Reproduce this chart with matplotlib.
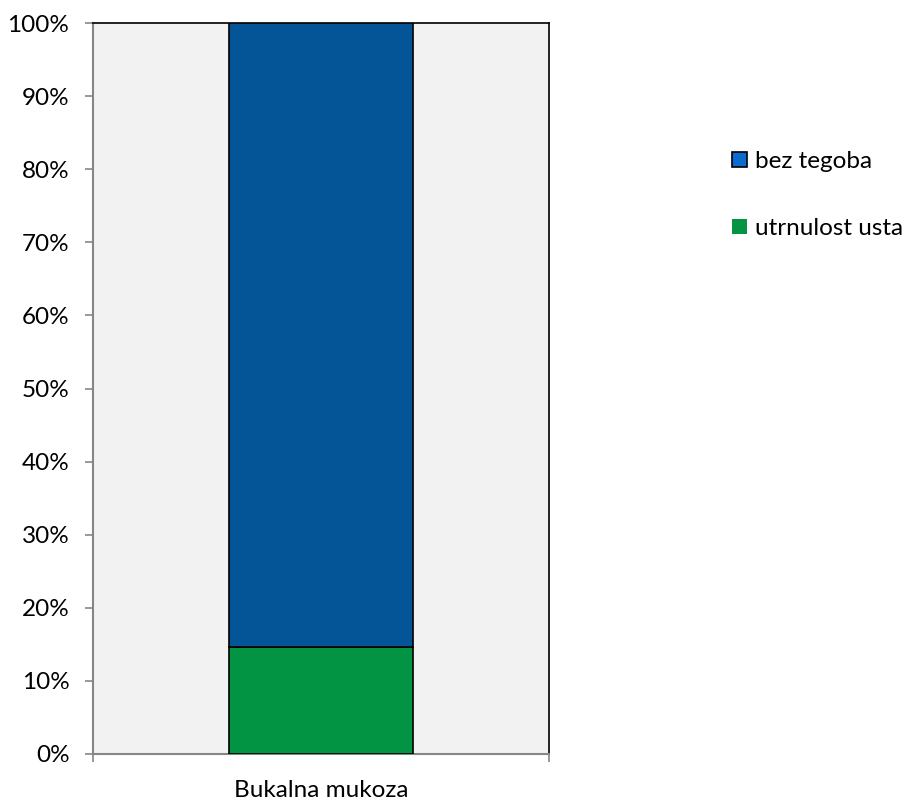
import matplotlib
matplotlib.use("Agg")
import matplotlib.pyplot as plt
from matplotlib.patches import Patch
from matplotlib.ticker import FuncFormatter

categories = ["Bukalna mukoza"]
utrnulost = [14.6]
bez_tegoba = [85.4]
labels = ["bez tegoba", "utrnulost usta"]
yticks = [0, 10, 20, 30, 40, 50, 60, 70, 80, 90, 100]

plt.rcParams['font.family'] = ['Lato', 'DejaVu Sans']

fig = plt.figure(figsize=(9.08, 8), dpi=100)
ax = fig.add_axes([93/908, 46/800, 456/908, 731/800])
ax.set_facecolor('#f2f2f2')

x = list(range(len(categories)))
green = '#039443'
blue = '#035597'
ax.bar(x, utrnulost, width=0.404, color=green, edgecolor='black', linewidth=1.2, zorder=3)
ax.bar(x, bez_tegoba, bottom=utrnulost, width=0.404, color=blue, edgecolor='black', linewidth=1.2, zorder=3)

ax.set_xlim(-0.5, 0.5)
ax.set_ylim(0, 100)
ax.set_yticks(yticks)
ax.yaxis.set_major_formatter(FuncFormatter(lambda v, p: f"{int(v)}%"))
ax.set_xticks(x)
ax.set_xticklabels(categories)
ax.set_xticks([-0.5, 0.5], minor=True)
ax.tick_params(axis='x', which='major', length=0, labelsize=17.5, pad=19, colors='black')
ax.tick_params(axis='x', which='minor', length=6, color='#868686', width=1.2)
ax.tick_params(axis='y', length=6, color='#868686', width=1.2, labelsize=17.5, pad=11)

for s in ['left', 'bottom']:
    ax.spines[s].set_color('#868686')
    ax.spines[s].set_linewidth(1.5)
for s in ['top', 'right']:
    ax.spines[s].set_color('black')
    ax.spines[s].set_linewidth(1.2)

handles = [Patch(facecolor='#0a6ccc', edgecolor='black', linewidth=1.2),
           Patch(facecolor=green, edgecolor='none')]
fig.legend(handles, labels, loc='upper left', bbox_to_anchor=(732/908, 1 - 151/800),
           frameon=False, fontsize=17.5, handlelength=0.6, handleheight=0.6,
           handletextpad=0.35, labelspacing=1.9, borderaxespad=0, borderpad=0)

fig.savefig("out.png", dpi=100)
